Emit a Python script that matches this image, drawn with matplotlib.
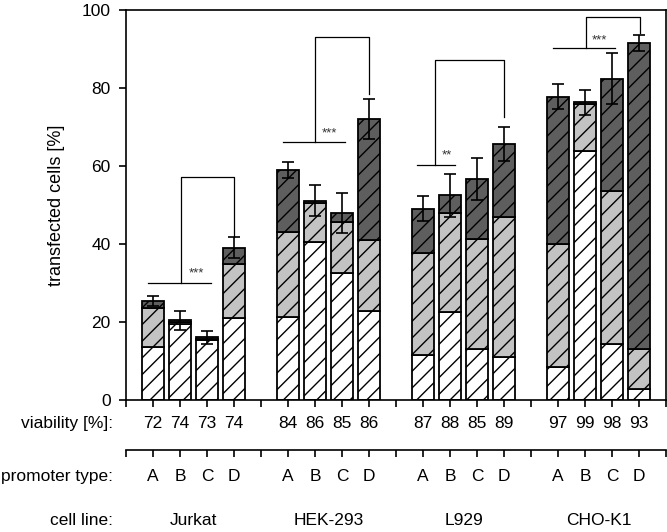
import numpy as np
import matplotlib
matplotlib.use('Agg')
import matplotlib.pyplot as plt

plt.rcParams['font.family'] = ['Liberation Sans', 'DejaVu Sans']
plt.rcParams['hatch.linewidth'] = 1.0

# data
cell_lines = ['Jurkat', 'HEK-293', 'L929', 'CHO-K1']
promoters = ['A', 'B', 'C', 'D']
viability = [72, 74, 73, 74, 84, 86, 85, 86, 87, 88, 85, 89, 97, 99, 98, 93]
white = [13.7, 19.5, 15.3, 21.1, 21.2, 40.4, 32.5, 22.9, 11.5, 22.6, 13.0, 10.9, 8.5, 63.9, 14.4, 2.7]
light = [9.8, 0.5, 0.3, 13.9, 21.8, 10.0, 13.1, 18.0, 26.3, 25.3, 28.3, 35.9, 31.5, 12.1, 39.2, 10.4]
dark = [1.8, 0.4, 0.5, 4.1, 16.0, 0.7, 2.3, 31.1, 11.2, 4.6, 15.4, 18.8, 37.8, 0.3, 28.8, 78.5]
err = [1.3, 2.5, 1.7, 2.6, 2.0, 4.0, 5.2, 5.2, 3.2, 5.5, 5.3, 4.4, 3.3, 3.3, 6.5, 2.0]

# significance brackets: (left x, right x, base y, vertical x, top y, right leg x, leg end y, label, label x, label y)
brackets = [
    (0.8, 3.14, 30.1, 2.03, 57.1, 4.0, 41.9, '***', 2.6, 32.4),
    (5.8, 8.11, 66.2, 7.0, 93.2, 9.0, 78.5, '***', 7.55, 68.4),
    (10.76, 12.2, 60.3, 11.44, 87.1, 14.0, 72.5, '**', 11.9, 62.6),
    (15.8, 18.1, 90.2, 17.03, 98.1, 19.04, 94.2, '***', 17.55, 92.3),
]

white = np.array(white)
light = np.array(light)
dark = np.array(dark)
total = white + light + dark
x = np.array([g * 5 + i + 1 for g in range(4) for i in range(4)])

fs = 12.5
fig = plt.figure(figsize=(6.67, 5.32), dpi=100)
ax = fig.add_axes([126 / 667, 1 - 400 / 532, 540 / 667, 390 / 532])

w = 0.8
kw = dict(width=w, edgecolor='black', linewidth=1.3, hatch='//')
ax.bar(x, white, color='white', **kw)
ax.bar(x, light, bottom=white, color='#c3c3c3', **kw)
ax.bar(x, dark, bottom=white + light, color='#5e5e5e', **kw)
ax.errorbar(x, total, yerr=err, fmt='none', ecolor='black', elinewidth=1.2,
            capsize=4.3, capthick=1.2)

for lx, rx, by, vx, ty, rlx, ey, lab, tx, tyy in brackets:
    ax.plot([lx, rx], [by, by], color='black', lw=0.9)
    ax.plot([vx, vx, rlx, rlx], [by, ty, ty, ey], color='black', lw=0.9)
    ax.text(tx, tyy, lab, ha='center', va='center', fontsize=9.5, color='#333333')

ax.set_xlim(0, 20)
ax.set_ylim(0, 100)
ax.set_yticks([0, 20, 40, 60, 80, 100])
ax.set_xticks(range(21))
ax.set_xticklabels([])
ax.tick_params(axis='y', labelsize=fs, length=5, width=1.2, pad=6)
ax.tick_params(axis='x', length=5, width=1.2)
for s in ax.spines.values():
    s.set_linewidth(1.2)
ax.set_ylabel('transfected cells [%]', fontsize=13)
ax.yaxis.set_label_coords(-0.113, 0.5)

sec = ax.secondary_xaxis(-0.128)
sec.set_xticks(range(21))
sec.set_xticklabels([])
sec.tick_params(length=5, width=1.2)
sec.spines['bottom'].set_linewidth(1.2)

tr = ax.get_xaxis_transform()
lx0 = -0.48
ax.text(lx0, -0.059, 'viability [%]:', transform=tr, ha='right', va='center', fontsize=fs)
ax.text(lx0, -0.197, 'promoter type:', transform=tr, ha='right', va='center', fontsize=fs)
ax.text(lx0, -0.31, 'cell line:', transform=tr, ha='right', va='center', fontsize=fs)
for xi, v in zip(x, viability):
    ax.text(xi, -0.059, str(v), transform=tr, ha='center', va='center', fontsize=fs)
for k, xi in enumerate(x):
    ax.text(xi, -0.197, promoters[k % 4], transform=tr, ha='center', va='center', fontsize=fs)
for g, name in enumerate(cell_lines):
    ax.text(g * 5 + 2.5, -0.31, name, transform=tr, ha='center', va='center', fontsize=fs)

fig.savefig('out.png', dpi=100)
